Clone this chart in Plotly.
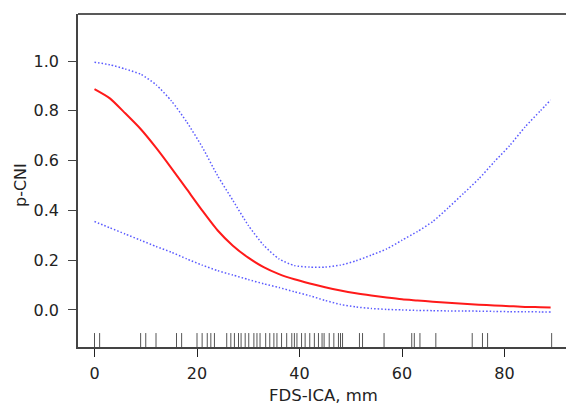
import plotly.graph_objects as go

# Fitted curve grid (FDS-ICA, mm)
x_fit = [0, 3, 6, 9, 12, 15, 18, 21, 24, 27, 30, 33, 36, 39, 42, 45, 48, 51, 54, 57,
         60, 63, 66, 69, 72, 75, 78, 81, 84, 87, 89]
p_fit = [0.887, 0.850, 0.790, 0.727, 0.652, 0.57, 0.485, 0.40, 0.32, 0.258, 0.21, 0.172,
         0.144, 0.123, 0.106, 0.091, 0.078, 0.067, 0.058, 0.05, 0.043, 0.038, 0.033, 0.029,
         0.025, 0.021, 0.018, 0.015, 0.012, 0.011, 0.01]
p_upper = [0.995, 0.985, 0.968, 0.947, 0.905, 0.84, 0.755, 0.655, 0.54, 0.44, 0.34, 0.26,
           0.205, 0.178, 0.172, 0.172, 0.18, 0.197, 0.22, 0.245, 0.28, 0.315, 0.355, 0.41,
           0.468, 0.527, 0.595, 0.66, 0.735, 0.80, 0.843]
p_lower = [0.355, 0.33, 0.305, 0.28, 0.255, 0.232, 0.205, 0.18, 0.158, 0.14, 0.122, 0.105,
           0.09, 0.073, 0.057, 0.038, 0.022, 0.012, 0.006, 0.002, 0.0, -0.002, -0.003, -0.004,
           -0.004, -0.005, -0.006, -0.007, -0.007, -0.008, -0.008]

# Rug of observed FDS-ICA values
rug_x = [0, 1, 9, 10, 12, 16, 17, 20, 21, 22, 22.7, 23.4, 25.8, 26.6, 27.3, 28.1, 28.6,
         29.4, 30.1, 31.1, 31.7, 32.3, 33.4, 34.2, 35, 35.6, 36.5, 37.5, 38.5, 39, 39.5,
         40.4, 41.1, 42, 42.9, 43.7, 44.4, 44.8, 45.8, 46.7, 47.6, 48, 48.4, 51.7, 52.3,
         56.5, 61.9, 62.4, 63.5, 66.6, 73.7, 75.7, 76.7, 89.2]

x_ticks = [0, 20, 40, 60, 80]
y_ticks = [0.0, 0.2, 0.4, 0.6, 0.8, 1.0]
y_tick_labels = ["0.0", "0.2", "0.4", "0.6", "0.8", "1.0"]

X_RANGE = [-3.22, 92.0]
Y_RANGE = [-0.149, 1.189]
RUG_TOP = -0.093

FONT = "DejaVu Sans, Liberation Sans, Arial, sans-serif"
AXC = "#444444"

fig = go.Figure()

rx, ry = [], []
for v in rug_x:
    rx += [v, v, None]
    ry += [Y_RANGE[0], RUG_TOP, None]
fig.add_trace(go.Scatter(x=rx, y=ry, mode="lines",
                         line=dict(color="#555555", width=1), hoverinfo="skip"))

for band in (p_upper, p_lower):
    fig.add_trace(go.Scatter(x=x_fit, y=band, mode="lines",
                             line=dict(color="#5a5aff", width=1.5, dash="1.5px,2px",
                                       shape="spline", smoothing=0.6)))
fig.add_trace(go.Scatter(x=x_fit, y=p_fit, mode="lines",
                         line=dict(color="#ff1a1a", width=2, shape="spline", smoothing=0.6)))

fig.update_layout(
    width=566, height=407,
    margin=dict(l=78, r=0, t=14, b=60),
    paper_bgcolor="white", plot_bgcolor="white",
    showlegend=False,
    font=dict(family=FONT, size=16, color="#222222"),
    xaxis=dict(range=X_RANGE, tickvals=x_ticks, ticks="outside", ticklen=8, tickwidth=1.2,
               tickcolor="#222222", showline=True, linecolor=AXC, linewidth=1.6,
               showgrid=False, zeroline=False, tickfont=dict(size=16), ticklabelstandoff=3),
    yaxis=dict(range=Y_RANGE, tickvals=y_ticks, ticktext=y_tick_labels, ticks="outside",
               ticklen=8, tickwidth=1.2, tickcolor=AXC, showline=True, linecolor=AXC,
               linewidth=1.6, showgrid=False, zeroline=False, tickfont=dict(size=16),
               ticklabelstandoff=6),
    shapes=[dict(type="line", xref="paper", yref="paper", x0=0, x1=1, y0=1, y1=1,
                 line=dict(color="#222222", width=1.6))],
    annotations=[
        dict(text="FDS-ICA, mm", xref="paper", yref="paper", x=(323 - 78) / 488,
             y=-(396 - 347) / 333, xanchor="center", yanchor="middle", showarrow=False,
             font=dict(size=16.5)),
        dict(text="p-CNI", xref="paper", yref="paper", x=-58 / 488, y=(347 - 185) / 333,
             xanchor="center", yanchor="middle", textangle=-90, showarrow=False,
             font=dict(size=16)),
    ],
)

fig.write_html("out.html", config={"displayModeBar": False},
               post_script="document.body.style.margin='0';document.body.style.overflow='hidden';")
